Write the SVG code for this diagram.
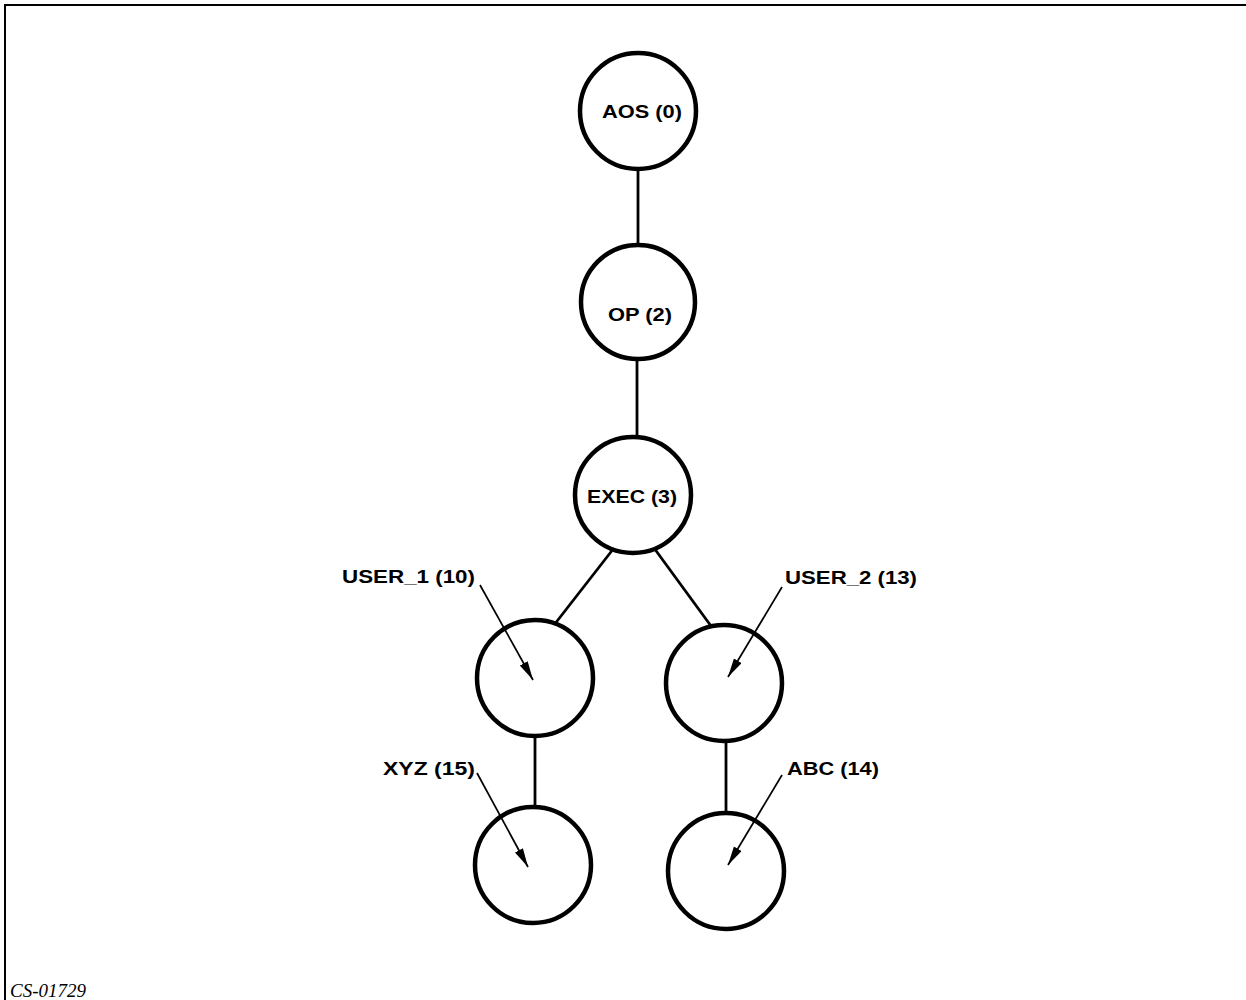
<svg xmlns="http://www.w3.org/2000/svg" width="1246" height="1000" viewBox="0 0 1246 1000">
<style>
.node{fill:none;stroke:#000;stroke-width:4.5}
.edge{stroke:#000;stroke-width:2.8;fill:none}
.ptr{stroke:#000;stroke-width:1.7;fill:none}
.lbl{font-family:"Liberation Sans",Arial,sans-serif;font-weight:bold;font-size:18.5px;fill:#000}
.cap{font-family:"Liberation Serif","Times New Roman",serif;font-style:italic;font-size:18px;fill:#000}
</style>
<defs>
<marker id="ah" markerUnits="userSpaceOnUse" markerWidth="22" markerHeight="10" refX="19" refY="4.5" orient="auto">
<path d="M0,0 L19,4.5 L0,9 Z" fill="#000"/>
</marker>
</defs>
<rect width="1246" height="1000" fill="#fff"/>
<g id="frame">
<path d="M5,1000 V5 H1246" fill="none" stroke="#000" stroke-width="2"/>
</g>
<g id="connectors">
<line class="edge" x1="638" y1="170" x2="638" y2="245"/>
<line class="edge" x1="637" y1="359" x2="637" y2="436"/>
<line class="edge" x1="614" y1="548" x2="554" y2="625"/>
<line class="edge" x1="654" y1="548" x2="711" y2="626"/>
<line class="edge" x1="535" y1="736" x2="535" y2="807"/>
<line class="edge" x1="726" y1="742" x2="726" y2="814"/>
<line class="ptr" x1="480" y1="585" x2="533" y2="680" marker-end="url(#ah)"/>
<line class="ptr" x1="782" y1="587" x2="728" y2="677" marker-end="url(#ah)"/>
<line class="ptr" x1="477" y1="773" x2="528" y2="867" marker-end="url(#ah)"/>
<line class="ptr" x1="782" y1="775" x2="728" y2="865" marker-end="url(#ah)"/>
</g>
<g id="aos">
<circle class="node" cx="638" cy="111" r="58"/>
<text class="lbl" x="602" y="118" textLength="80" lengthAdjust="spacingAndGlyphs">AOS (0)</text>
</g>
<g id="op">
<circle class="node" cx="638" cy="302" r="57"/>
<text class="lbl" x="608" y="321" textLength="64" lengthAdjust="spacingAndGlyphs">OP (2)</text>
</g>
<g id="exec">
<circle class="node" cx="633" cy="495" r="58"/>
<text class="lbl" x="587" y="503" textLength="90" lengthAdjust="spacingAndGlyphs">EXEC (3)</text>
</g>
<g id="user1">
<circle class="node" cx="535" cy="678" r="58"/>
<text class="lbl" x="342" y="583" textLength="133" lengthAdjust="spacingAndGlyphs">USER_1 (10)</text>
</g>
<g id="user2">
<circle class="node" cx="724" cy="683" r="58"/>
<text class="lbl" x="785" y="584" textLength="132" lengthAdjust="spacingAndGlyphs">USER_2 (13)</text>
</g>
<g id="xyz">
<circle class="node" cx="533" cy="865" r="58"/>
<text class="lbl" x="383" y="775" textLength="92" lengthAdjust="spacingAndGlyphs">XYZ (15)</text>
</g>
<g id="abc">
<circle class="node" cx="726" cy="871" r="58"/>
<text class="lbl" x="787" y="775" textLength="92" lengthAdjust="spacingAndGlyphs">ABC (14)</text>
</g>
<text class="cap" x="10" y="997" textLength="76" lengthAdjust="spacingAndGlyphs">CS-01729</text>
</svg>
